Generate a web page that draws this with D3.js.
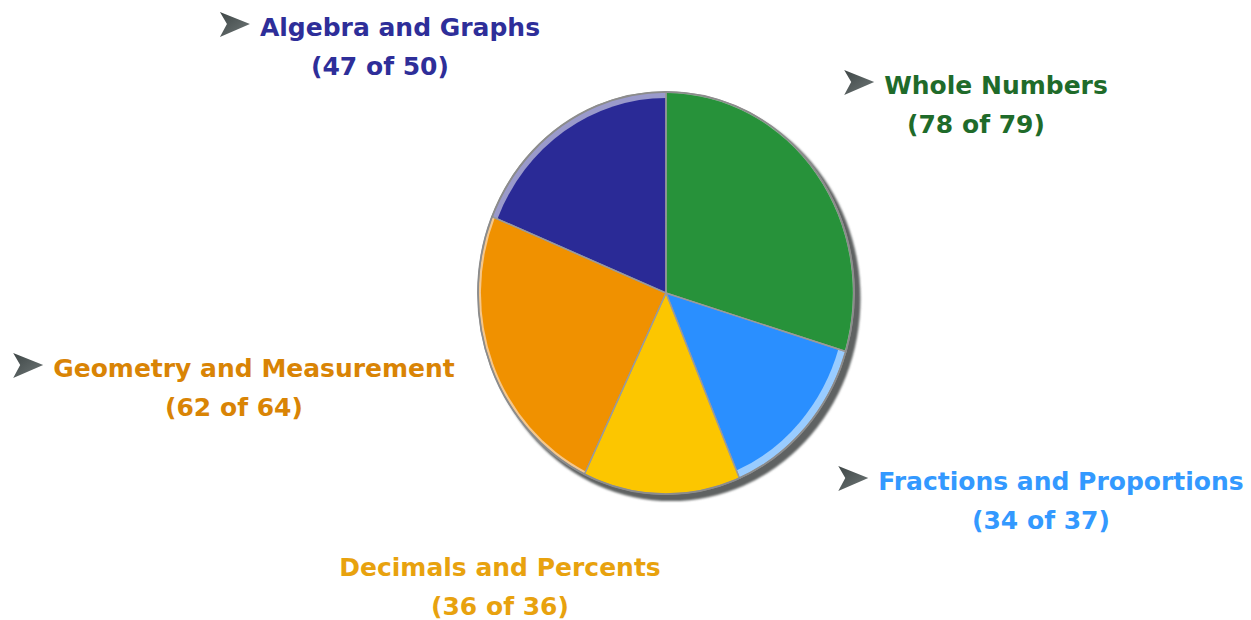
<!DOCTYPE html>
<html>
<head>
<meta charset="utf-8">
<script src="https://cdn.jsdelivr.net/npm/d3@7"></script>
<style>
  html, body { margin: 0; padding: 0; background: #fff; }
  svg text { font-family: "DejaVu Sans", Verdana, sans-serif; font-weight: bold; }
</style>
</head>
<body>
<div id="chart"></div>
<script>
// topic scores: correct answers out of total questions
const topics = ["Whole Numbers", "Fractions and Proportions", "Decimals and Percents",
                "Geometry and Measurement", "Algebra and Graphs"];
const correct = [78, 34, 36, 62, 47];
const totals = [79, 37, 36, 64, 50];

const sliceColors = ["#27923a", "#2a8fff", "#fcc600", "#f09100", "#2a2a96"];
const rimColors = ["#8fc79a", "#99ccff", "#fde38a", "#f5c78c", "#9a9acb"];
const textColors = ["#1f6b2a", "#3399ff", "#e8a20e", "#d98405", "#2e2e99"];

(function() {
  const width = 1251, height = 620;
  const cx = 666, cy = 293, R = 188, ky = 1.07;

  // label block centres (x) and first-line baselines (y), arrow flag
  const labelLayout = [
    { x: 976, y: 94, arrow: true },
    { x: 1041, y: 490, arrow: true },
    { x: 500, y: 576, arrow: false },
    { x: 234, y: 377, arrow: true },
    { x: 380, y: 36, arrow: true }
  ];

  const svg = d3.select("#chart")
    .append("svg")
    .attr("width", width)
    .attr("height", height);

  const defs = svg.append("defs");
  defs.append("filter").attr("id", "blur")
    .append("feGaussianBlur").attr("stdDeviation", 1);

  const grad = defs.append("linearGradient")
    .attr("id", "arrowGrad")
    .attr("x1", 0).attr("y1", 0).attr("x2", 1).attr("y2", 1);
  grad.append("stop").attr("offset", "0%").attr("stop-color", "#3f4747");
  grad.append("stop").attr("offset", "100%").attr("stop-color", "#6f7777");

  const data = topics.map((t, i) => ({
    topic: t, correct: correct[i], total: totals[i], i: i
  }));

  const pie = d3.pie()
    .sort(null)
    .value(d => d.total);
  const arcs = pie(data);

  const g = svg.append("g")
    .attr("transform", `translate(${cx},${cy}) scale(1,${ky})`);

  // drop shadow / 3D edge
  g.append("circle")
    .attr("cx", 5).attr("cy", 5)
    .attr("r", R + 1.5)
    .attr("fill", "#5e6262")
    .attr("filter", "url(#blur)");

  const fullArc = d3.arc().innerRadius(0).outerRadius(R);
  const scoreArc = d3.arc().innerRadius(0)
    .outerRadius(d => R * Math.sqrt(d.data.correct / d.data.total));

  // light rim = full slice, dark = share answered correctly
  g.selectAll("path.rim")
    .data(arcs)
    .enter().append("path")
    .attr("class", "rim")
    .attr("d", fullArc)
    .attr("fill", d => rimColors[d.data.i]);

  g.selectAll("path.score")
    .data(arcs)
    .enter().append("path")
    .attr("class", "score")
    .attr("d", scoreArc)
    .attr("fill", d => sliceColors[d.data.i]);

  // slice borders
  g.selectAll("path.edge")
    .data(arcs)
    .enter().append("path")
    .attr("class", "edge")
    .attr("d", fullArc)
    .attr("fill", "none")
    .attr("stroke", "#9a9a9a")
    .attr("stroke-width", 1.3);

  g.append("circle")
    .attr("r", R)
    .attr("fill", "none")
    .attr("stroke", "#8c8c8c")
    .attr("stroke-width", 1.8);

  // labels
  const fontSize = 25, lineGap = 39, arrowW = 30, arrowGap = 10;
  const labels = svg.selectAll("g.label")
    .data(data)
    .enter().append("g")
    .attr("class", "label");

  labels.each(function(d) {
    const lay = labelLayout[d.i];
    const lg = d3.select(this);
    const t1 = lg.append("text")
      .attr("font-size", fontSize)
      .attr("fill", textColors[d.i])
      .attr("y", lay.y)
      .text(d.topic);
    const w = t1.node().getComputedTextLength();
    const blockW = lay.arrow ? w + arrowW + arrowGap : w;
    const left = lay.x - blockW / 2;
    t1.attr("x", lay.arrow ? left + arrowW + arrowGap : left);

    if (lay.arrow) {
      lg.append("path")
        .attr("transform", `translate(${left},${lay.y - 24})`)
        .attr("d", "M0,0 L30,12 L0,25 L7,12 Z")
        .attr("fill", "url(#arrowGrad)");
    }

    lg.append("text")
      .attr("font-size", fontSize)
      .attr("fill", textColors[d.i])
      .attr("text-anchor", "middle")
      .attr("x", lay.x)
      .attr("y", lay.y + lineGap)
      .text(`(${d.correct} of ${d.total})`);
  });
})();
</script>
</body>
</html>
